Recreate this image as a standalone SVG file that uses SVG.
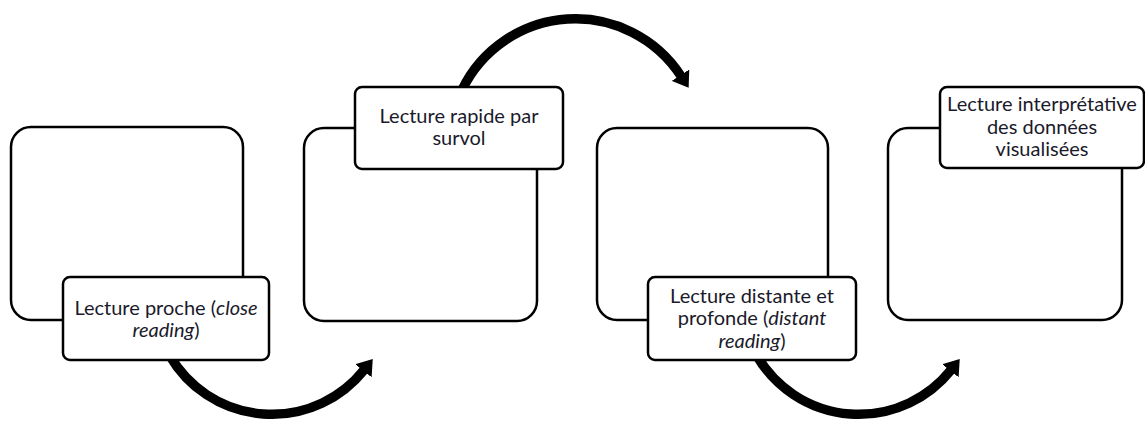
<svg xmlns="http://www.w3.org/2000/svg" width="1145" height="421" viewBox="0 0 1145 421">
<style>
.big{fill:#fff;stroke:#000;stroke-width:2.5}
.lab{fill:#fff;stroke:#000;stroke-width:2.5}
.conn{fill:none;stroke:#000;stroke-width:9.5}
text{font-family:Lato,"Open Sans","Liberation Sans",sans-serif;font-size:20px;fill:#1a1a2a;text-anchor:middle}
.it{font-style:italic}
</style>
<defs>
<marker id="ah" markerUnits="userSpaceOnUse" viewBox="0 0 15 21" refX="1" refY="10.5" markerWidth="15" markerHeight="21" orient="auto">
<path d="M0,0 L15,10.5 L0,21 z" fill="#000"/>
</marker>
</defs>
<g id="boxes">
<rect id="box1" class="big" x="11" y="127" width="232" height="193" rx="20"/>
<rect id="box2" class="big" x="304" y="128" width="233" height="193" rx="20"/>
<rect id="box3" class="big" x="597" y="128" width="231" height="192" rx="20"/>
<rect id="box4" class="big" x="888" y="128" width="234" height="192" rx="20"/>
</g>
<g id="connectors">
<path class="conn" d="M170,356 A118,118 0 0 0 364,370" marker-end="url(#ah)"/>
<path class="conn" d="M462,90 A126,126 0 0 1 681,76" marker-end="url(#ah)"/>
<path class="conn" d="M757,356 A118,118 0 0 0 951,370" marker-end="url(#ah)"/>
</g>
<g id="node1">
<rect class="lab" x="63" y="277" width="206" height="83" rx="7"/>
<text x="166" y="315">Lecture proche (<tspan class="it">close</tspan></text>
<text x="166" y="337"><tspan class="it">reading</tspan>)</text>
</g>
<g id="node2">
<rect class="lab" x="355" y="87" width="208" height="82" rx="7"/>
<text x="459" y="123">Lecture rapide par</text>
<text x="459" y="145">survol</text>
</g>
<g id="node3">
<rect class="lab" x="648" y="277" width="208" height="83" rx="7"/>
<text x="752" y="303">Lecture distante et</text>
<text x="752" y="325">profonde (<tspan class="it">distant</tspan></text>
<text x="752" y="348"><tspan class="it">reading</tspan>)</text>
</g>
<g id="node4">
<rect class="lab" x="940" y="87" width="204" height="81" rx="7"/>
<text x="1042" y="111">Lecture interprétative</text>
<text x="1042" y="134">des données</text>
<text x="1042" y="156">visualisées</text>
</g>
</svg>
